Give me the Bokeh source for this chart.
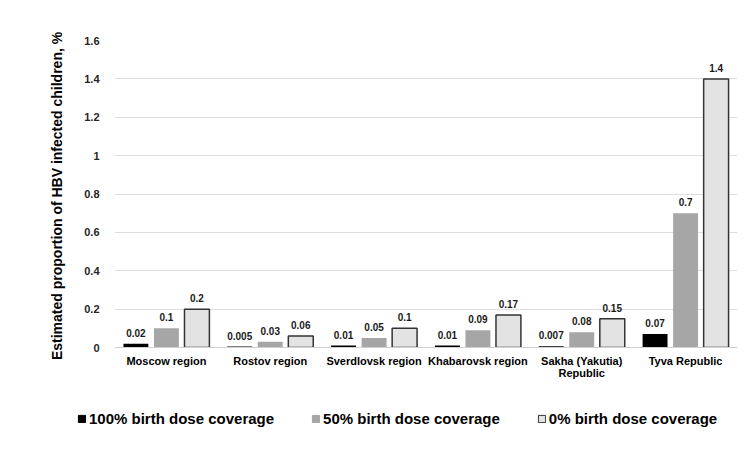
from bokeh.plotting import figure
from bokeh.models import ColumnDataSource, FactorRange, Range1d, Legend, LegendItem, FixedTicker, LabelSet
from bokeh.transform import dodge
from bokeh.core.properties import value
from bokeh.embed import file_html
from bokeh.resources import INLINE

regions = ["Moscow region", "Rostov region", "Sverdlovsk region", "Khabarovsk region",
           "Sakha (Yakutia)\nRepublic", "Tyva Republic"]
cov100 = [0.02, 0.005, 0.01, 0.01, 0.007, 0.07]
cov50 = [0.1, 0.03, 0.05, 0.09, 0.08, 0.7]
cov0 = [0.2, 0.06, 0.1, 0.17, 0.15, 1.4]
series_names = ["100% birth dose coverage", "50% birth dose coverage", "0% birth dose coverage"]
y_ticks = [0, 0.2, 0.4, 0.6, 0.8, 1.0, 1.2, 1.4, 1.6]
y_tick_labels = ["0", "0.2", "0.4", "0.6", "0.8", "1", "1.2", "1.4", "1.6"]
y_title = "Estimated proportion of HBV infected  children, %"

FONT = "Liberation Sans"

src = ColumnDataSource(dict(
    region=regions,
    c100=cov100, c50=cov50, c0=cov0,
    l100=[str(v) for v in cov100], l50=[str(v) for v in cov50], l0=[str(v) for v in cov0],
))

p = figure(x_range=FactorRange(*regions, range_padding=0), y_range=Range1d(0, 1.6),
           width=742, height=400, output_backend="svg", toolbar_location=None,
           min_border_left=114, min_border_right=5, min_border_top=40, min_border_bottom=53)
p.outline_line_color = None
p.background_fill_color = "white"
p.border_fill_color = "white"

off = 0.294
w = 0.24
fills = ["#000000", "#a6a6a6", "#e3e3e3"]
lines = [None, None, "#333333"]
cols = ["c100", "c50", "c0"]
labs = ["l100", "l50", "l0"]
for i, (c, lab) in enumerate(zip(cols, labs)):
    d = (i - 1) * off
    p.vbar(x=dodge("region", d, range=p.x_range), top=c, width=w, source=src,
           fill_color=fills[i], line_color=lines[i], line_width=1.5)
    ls = LabelSet(x=dodge("region", d, range=p.x_range), y=c, text=lab, source=src,
                  text_align="center", text_baseline="bottom", y_offset=7,
                  text_font=value(FONT), text_font_style="bold", text_font_size="10px",
                  text_color="#1a1a1a")
    p.add_layout(ls)

p.yaxis.ticker = FixedTicker(ticks=y_ticks)
p.yaxis.major_label_overrides = {t: l for t, l in zip(y_ticks, y_tick_labels)}
p.yaxis.axis_line_color = None
p.yaxis.major_tick_line_color = None
p.yaxis.minor_tick_line_color = None
p.yaxis.major_label_standoff = 9
p.yaxis.major_label_text_font = FONT
p.yaxis.major_label_text_font_style = "bold"
p.yaxis.major_label_text_font_size = "11px"
p.yaxis.major_label_text_color = "#262626"
p.yaxis.axis_label = y_title
p.yaxis.axis_label_text_font = FONT
p.yaxis.axis_label_text_font_style = "bold"
p.yaxis.axis_label_text_font_size = "14px"
p.yaxis.axis_label_text_color = "#000000"
p.yaxis.axis_label_standoff = 16

p.xaxis.axis_line_color = "#d0d0d0"
p.xaxis.major_tick_line_color = None
p.xaxis.minor_tick_line_color = None
p.xaxis.major_label_standoff = 1
p.xaxis.major_label_text_font = FONT
p.xaxis.major_label_text_font_style = "bold"
p.xaxis.major_label_text_font_size = "11px"
p.xaxis.major_label_text_line_height = 1.0
p.xaxis.major_label_text_color = "#000000"
p.xaxis.major_label_orientation = "horizontal"

p.xgrid.grid_line_color = None
p.ygrid.grid_line_color = "#dedede"
p.ygrid.grid_line_width = 1

# legend strip below the chart, as a separate root so its frame is not aligned to the chart's
lg = figure(width=742, height=57, output_backend="svg", toolbar_location=None,
            x_range=FactorRange(*regions), y_range=Range1d(0, 1),
            min_border_left=77, min_border_right=0, min_border_top=10, min_border_bottom=0)
lg.axis.visible = False
lg.grid.visible = False
lg.outline_line_color = None
lg_renderers = []
for i, c in enumerate(cols):
    r = lg.vbar(x="region", top=c, width=0.1, source=src, fill_color=fills[i],
                line_color=lines[i] if lines[i] else fills[i], line_width=1, visible=False)
    lg_renderers.append(r)
legend = Legend(items=[LegendItem(label=n, renderers=[r]) for n, r in zip(series_names, lg_renderers)],
                orientation="horizontal", location="top_left",
                label_text_font=FONT, label_text_font_style="bold", label_text_font_size="15px",
                label_text_color="#000000",
                glyph_width=9, glyph_height=9, label_standoff=3, spacing=37,
                padding=0, margin=0, border_line_color=None, background_fill_alpha=0)
lg.add_layout(legend, "center")

open("out.html", "w").write(file_html([p, lg], INLINE))
